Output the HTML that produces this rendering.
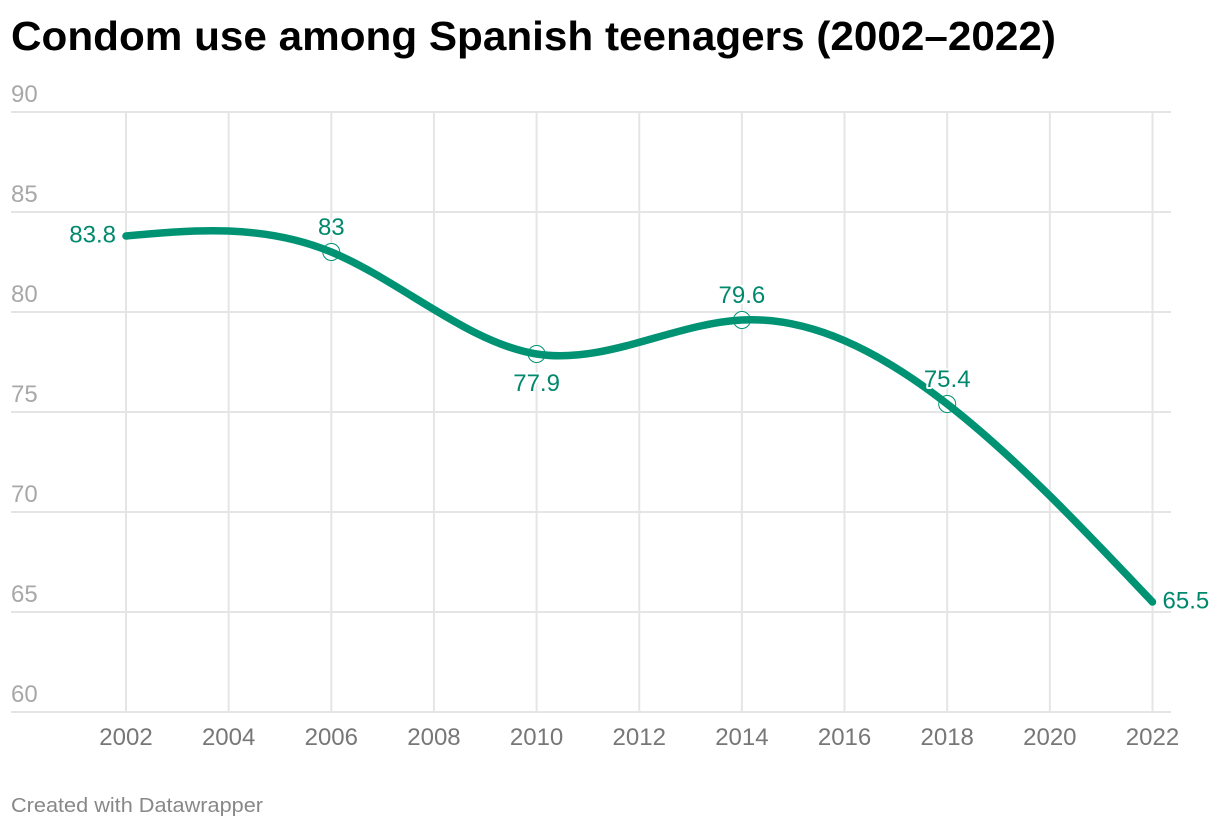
<!DOCTYPE html>
<html lang="en">
<head>
<meta charset="utf-8">
<title>Condom use among Spanish teenagers (2002–2022)</title>
<style>
html,body{margin:0;padding:0;background:#fff;width:1220px;height:828px;overflow:hidden}
svg{display:block;font-family:"Liberation Sans",Arial,sans-serif}
.halo{paint-order:stroke fill;stroke:#fff;stroke-width:4px;stroke-linejoin:round}
</style>
</head>
<body>
<svg id="chart" width="1220" height="828" viewBox="0 0 1220 828" xmlns="http://www.w3.org/2000/svg">
  <text x="11" y="50" font-size="41" font-weight="700" fill="#000" textLength="1045" lengthAdjust="spacingAndGlyphs">Condom use among Spanish teenagers (2002–2022)</text>
  <g id="grid-y"></g>
  <g id="grid-x"></g>
  <g id="markers"></g>
  <path id="line" fill="none" stroke="#009373" stroke-width="7.5" stroke-linecap="round" stroke-linejoin="round"></path>
  <g id="labels"></g>
  <text x="11" y="812" font-size="20.5" fill="#888" textLength="252" lengthAdjust="spacingAndGlyphs">Created with Datawrapper</text>
</svg>
<script>
const years = [2002, 2006, 2010, 2014, 2018, 2022];
const usage = [83.8, 83, 77.9, 79.6, 75.4, 65.5];
const labelSides = ['left', 'above', 'below', 'above', 'above', 'right'];
const xTicks = [2002, 2004, 2006, 2008, 2010, 2012, 2014, 2016, 2018, 2020, 2022];
const yTicks = [90, 85, 80, 75, 70, 65, 60];

const NS = 'http://www.w3.org/2000/svg';
const plot = {left: 11, right: 1171, top: 112, bottom: 712, x0: 126, x1: 1152.5};
const xMin = xTicks[0], xMax = xTicks[xTicks.length - 1];
const yMin = Math.min(...yTicks), yMax = Math.max(...yTicks);
function xScale(v) { return plot.x0 + (v - xMin) / (xMax - xMin) * (plot.x1 - plot.x0); }
function yScale(v) { return plot.bottom - (v - yMin) / (yMax - yMin) * (plot.bottom - plot.top); }
function make(tag) { return document.createElementNS(NS, tag); }

/* natural cubic spline control points, one coordinate at a time */
function controlPoints(p) {
  const n = p.length - 1, a = [], b = [], r = [];
  a[0] = 0; b[0] = 2; r[0] = p[0] + 2 * p[1];
  for (let i = 1; i < n - 1; i++) { a[i] = 1; b[i] = 4; r[i] = 4 * p[i] + 2 * p[i + 1]; }
  a[n - 1] = 2; b[n - 1] = 7; r[n - 1] = 8 * p[n - 1] + p[n];
  for (let i = 1; i < n; i++) {
    const m = a[i] / b[i - 1];
    b[i] -= m;
    r[i] -= m * r[i - 1];
  }
  const c1 = [], c2 = [];
  c1[n - 1] = r[n - 1] / b[n - 1];
  for (let i = n - 2; i >= 0; i--) c1[i] = (r[i] - c1[i + 1]) / b[i];
  c2[n - 1] = (p[n] + c1[n - 1]) / 2;
  for (let i = 0; i < n - 1; i++) c2[i] = 2 * p[i + 1] - c1[i + 1];
  return [c1, c2];
}

const gridY = document.getElementById('grid-y');
yTicks.forEach(function (t) {
  const ln = make('line');
  
  
  ln.setAttribute('x1', plot.left);
  ln.setAttribute('x2', plot.right);
  ln.setAttribute('y1', yScale(t));
  ln.setAttribute('y2', yScale(t));
  ln.setAttribute('stroke', '#e5e5e5');
  ln.setAttribute('stroke-width', '2');
  gridY.appendChild(ln);
  const tx = make('text');
  
  
  tx.setAttribute('x', plot.left);
  tx.setAttribute('y', yScale(t) - 10);
  tx.setAttribute('font-size', '24');
  tx.setAttribute('fill', '#a8a8a8');
  tx.textContent = t;
  gridY.appendChild(tx);
});

const gridX = document.getElementById('grid-x');
xTicks.forEach(function (t) {
  const ln = make('line');
  
  
  ln.setAttribute('x1', xScale(t));
  ln.setAttribute('x2', xScale(t));
  ln.setAttribute('y1', plot.top);
  ln.setAttribute('y2', plot.bottom);
  ln.setAttribute('stroke', '#e5e5e5');
  ln.setAttribute('stroke-width', '2');
  gridX.appendChild(ln);
  const tx = make('text');
  
  
  tx.setAttribute('x', xScale(t));
  tx.setAttribute('y', 745);
  tx.setAttribute('font-size', '24');
  tx.setAttribute('text-anchor', 'middle');
  tx.setAttribute('fill', '#777777');
  tx.textContent = t;
  gridX.appendChild(tx);
});

const px = years.map(xScale), py = usage.map(yScale);
const cx = controlPoints(px), cy = controlPoints(py);
let d = 'M' + px[0] + ',' + py[0];
for (let i = 0; i < px.length - 1; i++) {
  d += 'C' + cx[0][i] + ',' + cy[0][i] + ' ' + cx[1][i] + ',' + cy[1][i] + ' ' + px[i + 1] + ',' + py[i + 1];
}
document.getElementById('line').setAttribute('d', d);

const markers = document.getElementById('markers');
const labels = document.getElementById('labels');
years.forEach(function (yr, i) {
  const side = labelSides[i];
  if (side === 'above' || side === 'below') {
    const c = make('circle');
    
    
    c.setAttribute('cx', px[i]);
    c.setAttribute('cy', py[i]);
    c.setAttribute('r', '8.5');
    c.setAttribute('fill', '#fff');
    c.setAttribute('stroke', '#009373');
    c.setAttribute('stroke-width', '1');
    markers.appendChild(c);
  }
  const tx = make('text');
  
  
  tx.setAttribute('class', 'halo');
  tx.setAttribute('font-size', '24');
  tx.setAttribute('fill', '#00896d');
  let lx = px[i], ly = py[i] - 17, anchor = 'middle';
  if (side === 'left') { lx = px[i] - 10; ly = py[i] + 6.5; anchor = 'end'; }
  if (side === 'right') { lx = px[i] + 10; ly = py[i] + 6.5; anchor = 'start'; }
  if (side === 'below') { ly = py[i] + 37; }
  tx.setAttribute('x', lx);
  tx.setAttribute('y', ly);
  tx.setAttribute('text-anchor', anchor);
  tx.textContent = usage[i];
  labels.appendChild(tx);
});
</script>
</body>
</html>
